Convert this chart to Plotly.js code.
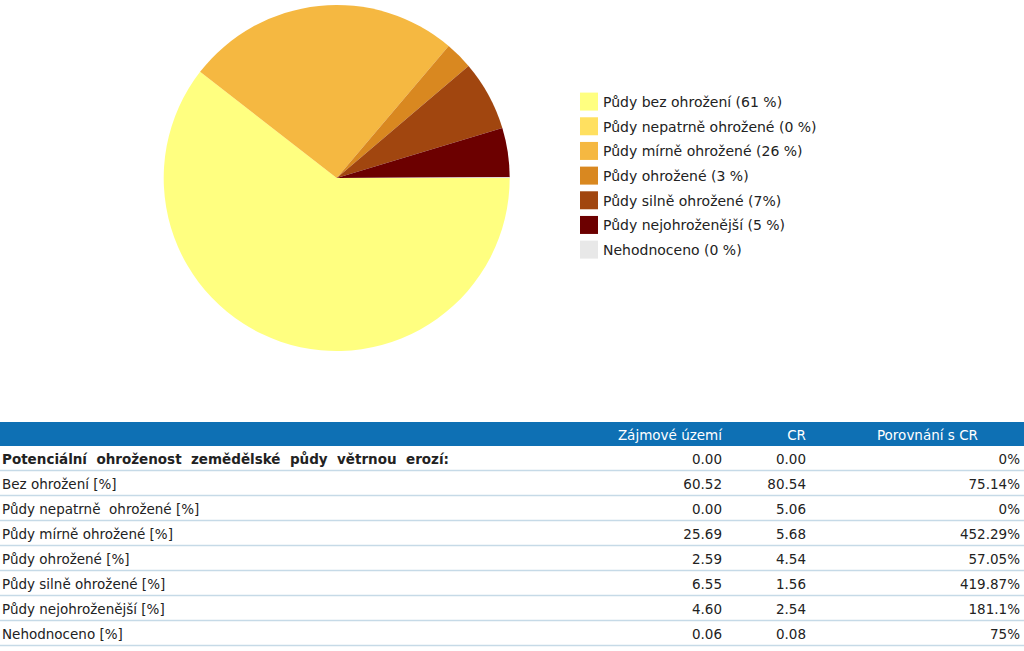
<!DOCTYPE html>
<html>
<head>
<meta charset="utf-8">
<script src="https://cdn.plot.ly/plotly-3.0.1.min.js"></script>
<style>
html,body{margin:0;padding:0;overflow:hidden;background:#fff;width:1024px;height:651px;}
#chart{position:absolute;left:-6px;top:0;width:1034px;height:651px;}
</style>
</head>
<body>
<div id="chart"></div>
<script>
// ---- pie data ----
const categories = ["Půdy bez ohrožení", "Půdy nepatrně ohrožené", "Půdy mírně ohrožené", "Půdy ohrožené", "Půdy silně ohrožené", "Půdy nejohroženější", "Nehodnoceno"];
const pctLabels = ["(61 %)", "(0 %)", "(26 %)", "(3 %)", "(7%)", "(5 %)", "(0 %)"];
const zajmoveUzemi = [60.52, 0.00, 25.69, 2.59, 6.55, 4.60, 0.06];
const sliceColors = ["#FFFF80", "#FFE060", "#F5B841", "#D98820", "#A1460F", "#6C0000", "#E8E8E8"];

// ---- table data ----
const tableHeader = ["", "Zájmové\u00a0území", "CR", "\u00a0\u00a0\u00a0Porovnání\u00a0s\u00a0CR"];
const rowLabels = ["Potenciální  ohroženost  zemědělské  půdy  větrnou  erozí:", "Bez ohrožení [%]", "Půdy nepatrně  ohrožené [%]", "Půdy mírně ohrožené [%]", "Půdy ohrožené [%]", "Půdy silně ohrožené [%]", "Půdy nejohroženější [%]", "Nehodnoceno [%]"];
const rowBold = [true, false, false, false, false, false, false, false];
const colZajmove = ["0.00", "60.52", "0.00", "25.69", "2.59", "6.55", "4.60", "0.06"];
const colCR = ["0.00", "80.54", "5.06", "5.68", "4.54", "1.56", "2.54", "0.08"];
const colPorovnani = ["0%", "75.14%", "0%", "452.29%", "57.05%", "419.87%", "181.1%", "75%"];

const W = 1034, H = 651;
const FONT = "DejaVu Sans, Verdana, sans-serif";

// pie geometry (pixels within plot)
const pieCx = 342.7, pieCy = 178, pieR = 173;

// table geometry
const tableTop = 422, headerH = 24, cellH = 25;
const nRows = rowLabels.length;

// legend geometry
const legendPitch = 24.67, swatchScale = 1.5, swatchX = 26;

const pie = {
  type: "pie",
  labels: categories.map((c, i) => c + " " + pctLabels[i]),
  values: zajmoveUzemi,
  sort: false,
  direction: "clockwise",
  rotation: 90,
  textinfo: "none",
  hoverinfo: "label+value",
  marker: {colors: sliceColors, line: {width: 0}},
  domain: {x: [(pieCx - pieR) / W, (pieCx + pieR) / W], y: [1 - (pieCy + pieR) / H, 1 - (pieCy - pieR) / H]},
  showlegend: true
};

const table = {
  type: "table",
  domain: {x: [0, 1], y: [0, 1 - tableTop / H]},
  columnwidth: [618, 118, 84, 214],
  header: {
    values: tableHeader,
    align: ["left", "right", "right", "center"],
    fill: {color: "#0E70B4"},
    line: {color: "#0E70B4", width: 0},
    font: {family: FONT, size: 13.5, color: "#ffffff"},
    height: headerH
  },
  cells: {
    values: [rowLabels, colZajmove, colCR, colPorovnani],
    align: ["left", "right", "right", "right"],
    fill: {color: "#ffffff"},
    line: {color: "#ffffff", width: 0},
    font: {family: FONT, size: 13.5, color: "#222222",
      weight: [rowBold.map(b => b ? 700 : 400), 400, 400, 400]},
    height: cellH
  }
};

// horizontal row separators, derived from the table's row count and row height
const shapes = [];
for (let i = 0; i < nRows; i++) {
  const yPix = tableTop + headerH + (i + 1) * cellH - 0.5;
  shapes.push({type: "line", xref: "paper", yref: "paper", x0: 0, x1: 1, y0: 1 - yPix / H, y1: 1 - yPix / H,
    line: {color: "#C6DAE7", width: 1.5}});
}

const layout = {
  width: W, height: H,
  margin: {l: 0, r: 0, t: 0, b: 0},
  paper_bgcolor: "#ffffff",
  font: {family: FONT, size: 13, color: "#222222"},
  showlegend: true,
  legend: {
    x: (609 - 40) / W, xanchor: "left",
    y: 1 - 86 / H, yanchor: "top",
    font: {family: FONT, size: 14, color: "#222222"},
    bgcolor: "rgba(0,0,0,0)",
    traceorder: "normal"
  },
  shapes: shapes
};

Plotly.newPlot("chart", [pie, table], layout, {displayModeBar: false, staticPlot: true}).then(function () {
  document.querySelectorAll(".legend .scrollbox").forEach(function (s) { s.removeAttribute("clip-path"); });
  const items = document.querySelectorAll(".legend .traces");
  let x0 = 0, y0 = 0;
  if (items.length) {
    const m = /translate\(\s*([-\d.e]+)[ ,]+([-\d.e]+)/.exec(items[0].getAttribute("transform") || "");
    if (m) { x0 = parseFloat(m[1]); y0 = parseFloat(m[2]); }
  }
  items.forEach(function (g, i) {
    g.setAttribute("transform", "translate(" + x0 + "," + (y0 + i * legendPitch) + ")");
  });
  document.querySelectorAll(".legend .legendpoints path").forEach(function (p) {
    p.setAttribute("transform", "translate(" + swatchX + ",0) scale(" + swatchScale + ")");
  });
});
</script>
</body>
</html>
